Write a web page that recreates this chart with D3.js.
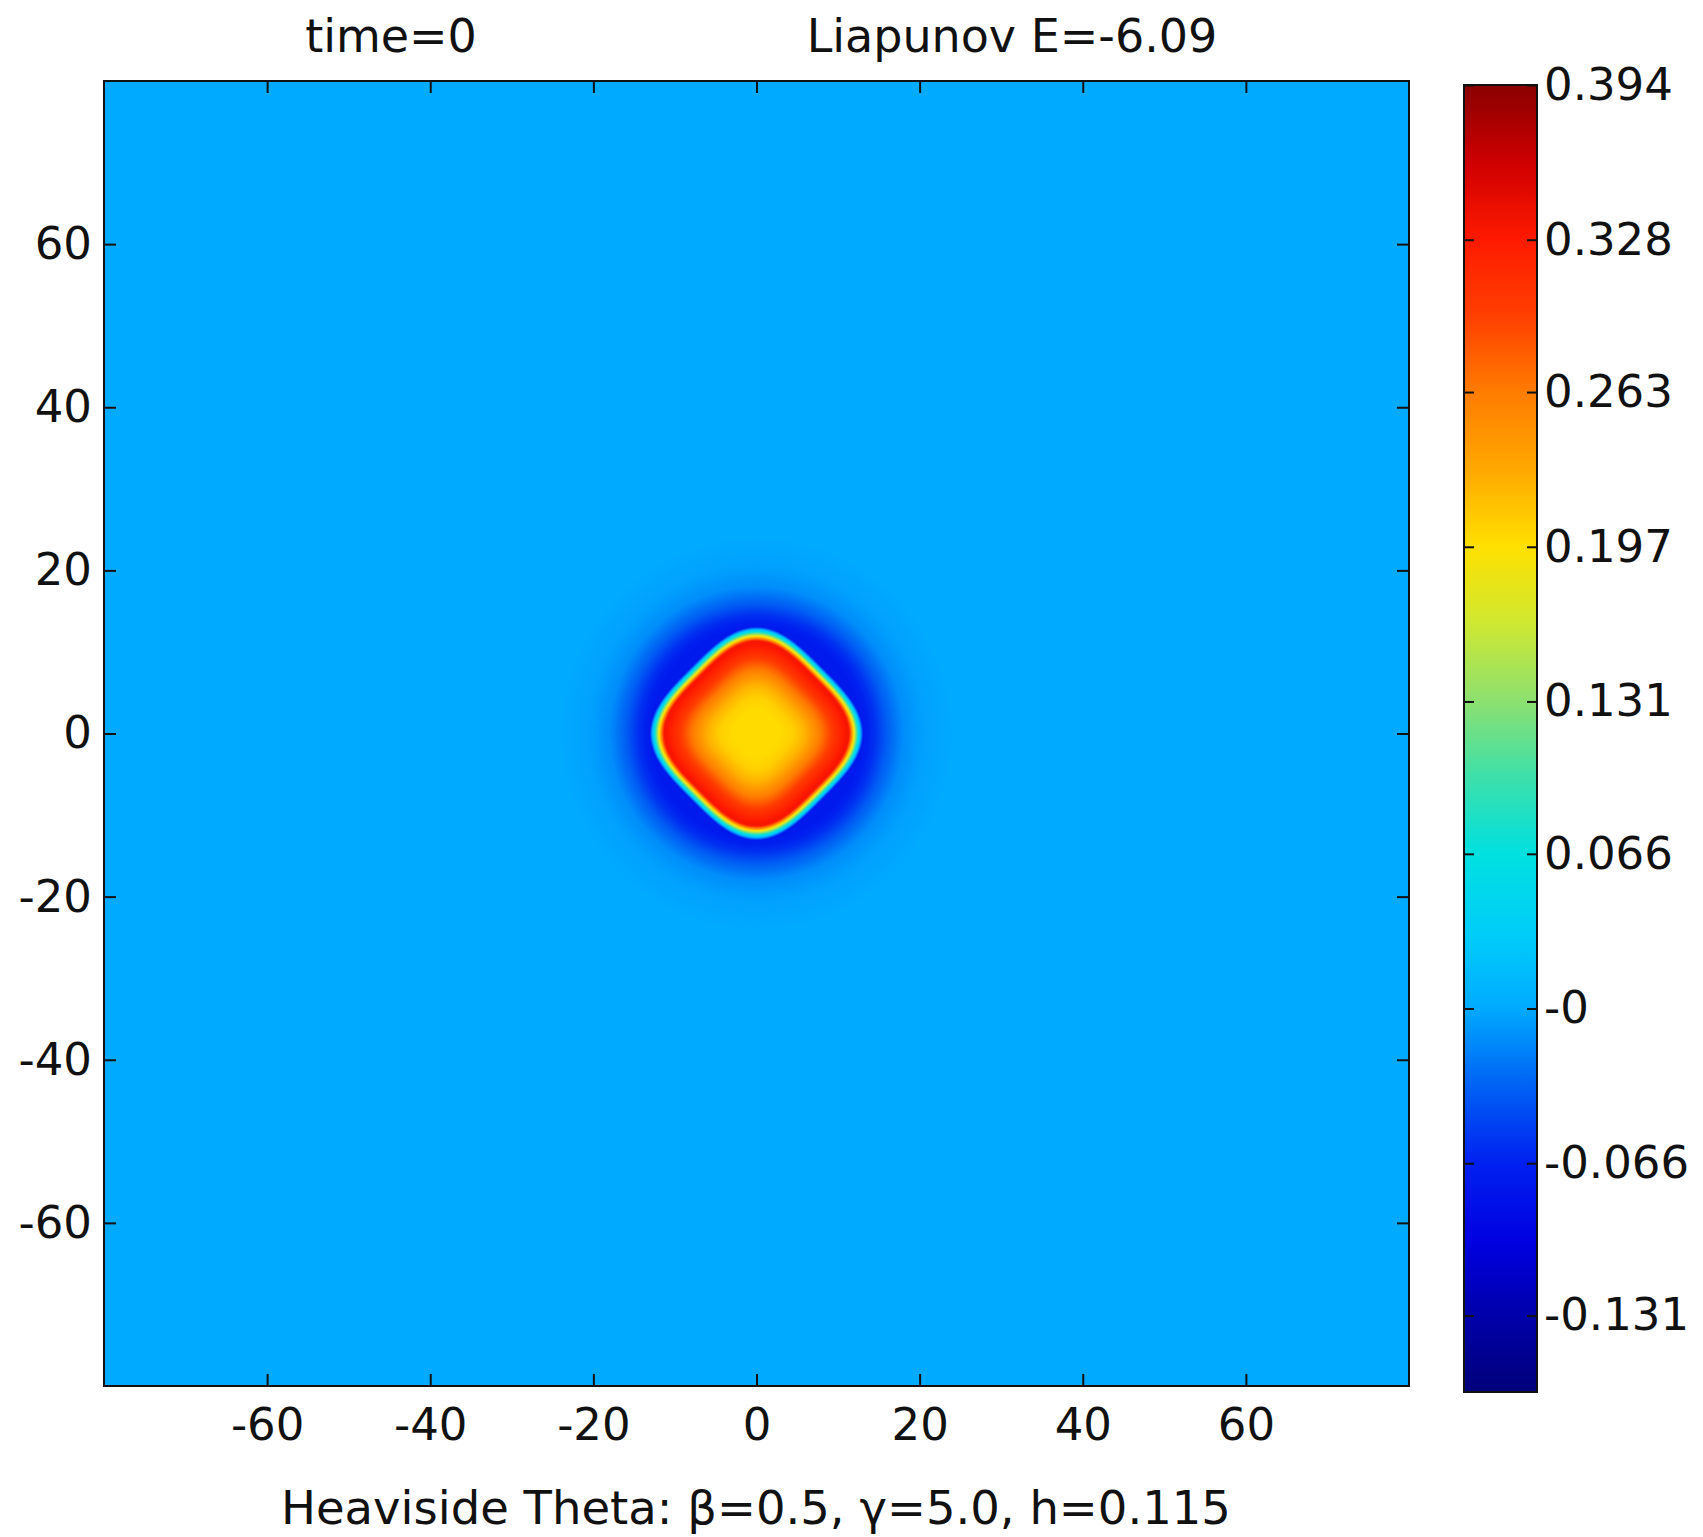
<!DOCTYPE html>
<html>
<head>
<meta charset="utf-8">
<script src="https://cdn.jsdelivr.net/npm/d3@7"></script>
<style>
  body { margin: 0; background: #fff; }
</style>
</head>
<body>
<div id="chart"></div>
<script>
// axis ticks
const xTicks = [-60, -40, -20, 0, 20, 40, 60];
const yTicks = [-60, -40, -20, 0, 20, 40, 60];
const cbTicks = [0.394, 0.328, 0.263, 0.197, 0.131, 0.066, 0, -0.066, -0.131];
const cbLabels = ["0.394", "0.328", "0.263", "0.197", "0.131", "0.066", "-0", "-0.066", "-0.131"];

// colour map
const cmapValues = [-0.1636, -0.131, -0.1, -0.066, -0.03, 0, 0.03, 0.066, 0.1, 0.131, 0.165, 0.197, 0.23, 0.263, 0.295, 0.328, 0.36, 0.394];
const cmapColors = ["#00007a", "#0000aa", "#0000e0", "#0020f0", "#0068f5", "#00aaff", "#00ccfa", "#00e0e0",
  "#40e0a8", "#8ce070", "#d0e830", "#ffe000", "#ffa800", "#ff7c00", "#ff4000", "#ff1a00", "#d00000", "#8a0000"];

// field profile (units of x / y)
const innerDist = [0, 3, 4.5, 6, 7.9, 9.5, 11, 13];          // rounded-square radius inside the drop
const innerVal = [0.2, 0.2, 0.207, 0.225, 0.265, 0.305, 0.333, 0.335];
const outerDist = [0, 13, 14.5, 16, 18, 20.5, 24];           // plain radius of the halo
const outerVal = [-0.075, -0.072, -0.058, -0.035, -0.013, -0.004, 0];
const edgeDist = [11.3, 13.1];                                // rounded-square radius of the rim
const shapePower = 3.3;

const titleLeft = "time=0";
const titleRight = "Liapunov E=-6.09";

const W = 1703, H = 1537;
const plot = { left: 104, right: 1409, top: 81, bottom: 1386 };
const bar = { left: 1464, right: 1537, top: 85, bottom: 1392 };

const svg = d3.select("#chart").append("svg")
  .attr("width", W)
  .attr("height", H)
  .attr("style", "font-family:'DejaVu Sans'");

const x = d3.scaleLinear().domain([-80, 80]).range([plot.left, plot.right]);
const y = d3.scaleLinear().domain([-80, 80]).range([plot.bottom, plot.top]);

const color = d3.scaleLinear().domain(cmapValues).range(cmapColors)
  .interpolate(d3.interpolateRgb).clamp(true);

const inner = d3.scaleLinear().domain(innerDist).range(innerVal).clamp(true);
const outer = d3.scaleLinear().domain(outerDist).range(outerVal).clamp(true);
const edge = d3.scaleLinear().domain(edgeDist).range([1, 0]).clamp(true);

// paint the field into a canvas, one pixel at a time
const pw = plot.right - plot.left, ph = plot.bottom - plot.top;
const canvas = document.createElement("canvas");
canvas.width = pw;
canvas.height = ph;
const ctx = canvas.getContext("2d");
const img = ctx.createImageData(pw, ph);
const norm = Math.pow(2, 1 / shapePower - 0.5);
for (let j = 0; j < ph; j++) {
  const yv = y.invert(plot.top + j + 0.5);
  for (let i = 0; i < pw; i++) {
    const xv = x.invert(plot.left + i + 0.5);
    const u = Math.abs(xv + yv) / Math.SQRT2, v = Math.abs(xv - yv) / Math.SQRT2;
    const s = Math.pow(Math.pow(u, shapePower) + Math.pow(v, shapePower), 1 / shapePower) / norm;
    const r = Math.hypot(xv, yv);
    const o = outer(r);
    const val = o + (inner(s) - o) * edge(s);
    const c = d3.rgb(color(val));
    const k = (j * pw + i) * 4;
    img.data[k] = c.r; img.data[k + 1] = c.g; img.data[k + 2] = c.b; img.data[k + 3] = 255;
  }
}
ctx.putImageData(img, 0, 0);

svg.append("image")
  .attr("x", plot.left)
  .attr("y", plot.top)
  .attr("width", pw)
  .attr("height", ph)
  .attr("preserveAspectRatio", "none")
  .attr("href", canvas.toDataURL());

// axes, ticks point inwards
const fontSize = 45;
const tick = 12;
const plain = d => String(d);

svg.append("g")
  .attr("transform", `translate(0,${plot.bottom})`)
  .call(d3.axisBottom(x).tickValues(xTicks).tickSize(-tick).tickPadding(22).tickFormat(plain));
svg.append("g")
  .attr("transform", `translate(0,${plot.top})`)
  .call(d3.axisTop(x).tickValues(xTicks).tickSize(-tick).tickFormat(""));
svg.append("g")
  .attr("transform", `translate(${plot.left},0)`)
  .call(d3.axisLeft(y).tickValues(yTicks).tickSize(-tick).tickPadding(12).tickFormat(plain));
svg.append("g")
  .attr("transform", `translate(${plot.right},0)`)
  .call(d3.axisRight(y).tickValues(yTicks).tickSize(-tick).tickFormat(""));

// colour bar
const cb = d3.scaleLinear().domain([cmapValues[0], cmapValues[cmapValues.length - 1]]).range([bar.bottom, bar.top]);

const grad = svg.append("defs").append("linearGradient")
  .attr("id", "cbgrad")
  .attr("x1", "0%").attr("y1", "100%")
  .attr("x2", "0%").attr("y2", "0%");
grad.selectAll("stop")
  .data(cmapValues)
  .join("stop")
  .attr("offset", d => ((d - cb.domain()[0]) / (cb.domain()[1] - cb.domain()[0]) * 100) + "%")
  .attr("stop-color", d => color(d));

svg.append("rect")
  .attr("x", bar.left)
  .attr("y", bar.top)
  .attr("width", bar.right - bar.left)
  .attr("height", bar.bottom - bar.top)
  .style("fill", "url(#cbgrad)");

svg.append("g")
  .attr("transform", `translate(${bar.right},0)`)
  .call(d3.axisRight(cb).tickValues(cbTicks).tickSize(-10).tickPadding(7)
    .tickFormat((d, i) => cbLabels[i]));
svg.append("g")
  .attr("transform", `translate(${bar.left},0)`)
  .call(d3.axisLeft(cb).tickValues(cbTicks).tickSize(-10).tickFormat(""));

svg.selectAll(".domain").remove();
svg.selectAll(".tick line").attr("stroke", "#111").attr("stroke-width", 2);
svg.selectAll(".tick text")
  .attr("font-family", "'DejaVu Sans'")
  .attr("font-size", fontSize)
  .attr("fill", "#111");

// frames
svg.append("rect")
  .attr("x", plot.left).attr("y", plot.top)
  .attr("width", pw).attr("height", ph)
  .attr("fill", "none").attr("stroke", "#111").attr("stroke-width", 2);
svg.append("rect")
  .attr("x", bar.left).attr("y", bar.top)
  .attr("width", bar.right - bar.left).attr("height", bar.bottom - bar.top)
  .attr("fill", "none").attr("stroke", "#111").attr("stroke-width", 2);

// titles
svg.append("text")
  .attr("x", 391).attr("y", 52)
  .attr("text-anchor", "middle")
  .attr("font-size", 46)
  .attr("fill", "#111")
  .text(titleLeft);
svg.append("text")
  .attr("x", 1012).attr("y", 52)
  .attr("text-anchor", "middle")
  .attr("font-size", 46)
  .attr("fill", "#111")
  .text(titleRight);

svg.append("text")
  .attr("x", 756).attr("y", 1524)
  .attr("text-anchor", "middle")
  .attr("font-size", 46.5)
  .attr("fill", "#111")
  .text("Heaviside Theta: β=0.5, γ=5.0, h=0.115");
</script>
</body>
</html>
